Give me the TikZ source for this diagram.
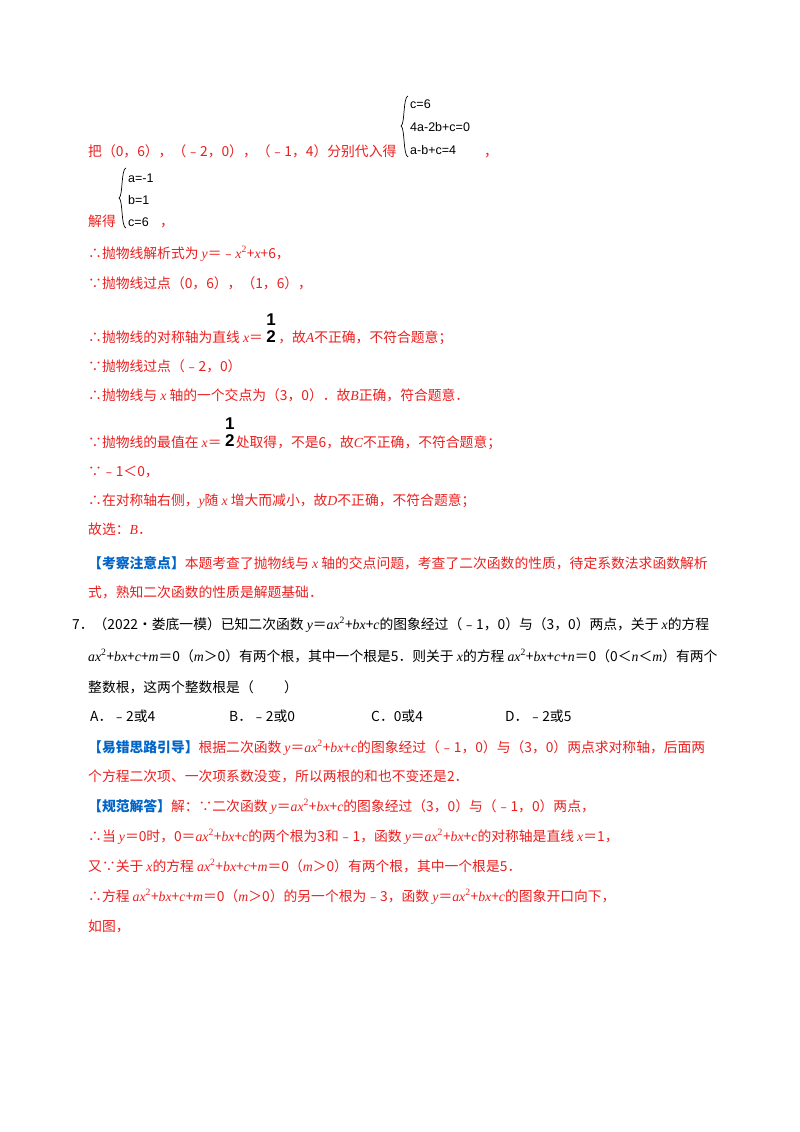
\documentclass[tikz,border=0pt]{standalone}
\usepackage{fontspec}
\setmainfont{Noto Sans CJK SC}
\newfontfamily\serf{Liberation Serif}
\newfontfamily\arf{Liberation Sans}
\newcommand{\vv}[1]{{\serf\itshape #1}}
\newcommand{\sq}{\textsuperscript{\serf 2}}
\definecolor{rd}{RGB}{235,30,30}
\definecolor{bl}{RGB}{0,100,200}
\tikzset{t/.style={anchor=base west,inner sep=0pt,font=\fontsize{13.8}{16}\selectfont},
 r/.style={t,text=rd},k/.style={t,text=black},
 sys/.style={anchor=base west,inner sep=0pt,font=\arf\fontsize{12.5}{15}\selectfont,text=black,align=left},
 frac/.style={anchor=base west,inner sep=0pt,font=\arf\bfseries\fontsize{17}{18}\selectfont,text=black},
 brc/.style={draw=black,line width=0.7pt}}
\begin{document}
\begin{tikzpicture}[x=1pt,y=-1pt]
\useasboundingbox (0,0) rectangle (800,1132);
\node[r] (l1) at (88,156) {把（0，6），（﹣2，0），（﹣1，4）分别代入得};
\node[sys] (s1) at (410,108) {c=6};
\node[sys] (s2) at (410,131) {4a-2b+c=0};
\node[sys] (s3) at (410,154) {a-b+c=4};
\coordinate (b1t) at (408,96); \coordinate (b1m) at (401,126); \coordinate (b1b) at (408,157);
\draw[brc] (b1t) .. controls (403,97) and (405,124) .. (b1m) .. controls (405,128) and (403,155) .. (b1b);
\node[r] (c1) at (484,156) {，};
\node[r] (l2) at (88,226) {解得};
\node[sys] (s4) at (128,182) {a=-1};
\node[sys] (s5) at (128,204) {b=1};
\node[sys] (s6) at (128,226) {c=6};
\coordinate (b2t) at (126,168); \coordinate (b2m) at (119,198); \coordinate (b2b) at (126,228);
\draw[brc] (b2t) .. controls (121,169) and (123,196) .. (b2m) .. controls (123,200) and (121,227) .. (b2b);
\node[r] (c2) at (160,226) {，};
\node[r] (l3) at (88,258) {∴抛物线解析式为 \vv{y}＝﹣\vv{x}\sq+\vv{x}+6，};
\node[r] (l4) at (88,288) {∵抛物线过点（0，6），（1，6），};
\node[r] (l5a) at (88,342) {∴抛物线的对称轴为直线 \vv{x}＝};
\node[frac] (f1) at ([xshift=3pt,yshift=17pt]l5a.base east) {1};
\node[frac] (f2) at ([xshift=3pt]l5a.base east) {2};
\node[r] (l5b) at ([xshift=2pt]f2.base east) {，故\vv{A}不正确，不符合题意；};
\node[r] (l6) at (88,371) {∵抛物线过点（﹣2，0）};
\node[r] (l7) at (88,400) {∴抛物线与 \vv{x} 轴的一个交点为（3，0）．故\vv{B}正确，符合题意．};
\node[r] (l8a) at (88,447) {∵抛物线的最值在 \vv{x}＝};
\node[frac] (f3) at ([xshift=3pt,yshift=18pt]l8a.base east) {1};
\node[frac] (f4) at ([xshift=3pt,yshift=1pt]l8a.base east) {2};
\node[r] (l8b) at ([xshift=1pt]f4.east |- l8a.base) {处取得，不是6，故\vv{C}不正确，不符合题意；};
\node[r] (l9) at (88,476) {∵﹣1＜0，};
\node[r] (l10) at (88,505) {∴在对称轴右侧，\vv{y}随 \vv{x} 增大而减小，故\vv{D}不正确，不符合题意；};
\node[r] (l11) at (88,534) {故选：\vv{B}．};
\node[r] (l12) at (88,568) {\textcolor{bl}{\textbf{【考察注意点】}}本题考查了抛物线与 \vv{x} 轴的交点问题，考查了二次函数的性质，待定系数法求函数解析};
\node[r] (l13) at (88,597) {式，熟知二次函数的性质是解题基础．};
\node[k] (q1) at (72,629) {7．（2022•娄底一模）已知二次函数 \vv{y}＝\vv{ax}\sq+\vv{bx}+\vv{c}的图象经过（﹣1，0）与（3，0）两点，关于 \vv{x}的方程};
\node[k] (q2) at (88,661) {\vv{ax}\sq+\vv{bx}+\vv{c}+\vv{m}＝0（\vv{m}＞0）有两个根，其中一个根是5．则关于 \vv{x}的方程 \vv{ax}\sq+\vv{bx}+\vv{c}+\vv{n}＝0（0＜\vv{n}＜\vv{m}）有两个};
\node[k] (q3) at (88,692) {整数根，这两个整数根是（\hspace{2.2em}）};
\node[k] (oA) at (90,721) {A．﹣2或4};
\node[k] (oB) at (229,721) {B．﹣2或0};
\node[k] (oC) at (371,721) {C．0或4};
\node[k] (oD) at (505,721) {D．﹣2或5};
\node[r] (l14) at (88,752) {\textcolor{bl}{\textbf{【易错思路引导】}}根据二次函数 \vv{y}＝\vv{ax}\sq+\vv{bx}+\vv{c}的图象经过（﹣1，0）与（3，0）两点求对称轴，后面两};
\node[r] (l15) at (88,781) {个方程二次项、一次项系数没变，所以两根的和也不变还是2．};
\node[r] (l16) at (88,811) {\textcolor{bl}{\textbf{【规范解答】}}解：∵二次函数 \vv{y}＝\vv{ax}\sq+\vv{bx}+\vv{c}的图象经过（3，0）与（﹣1，0）两点，};
\node[r] (l17) at (88,841) {∴当 \vv{y}＝0时，0＝\vv{ax}\sq+\vv{bx}+\vv{c}的两个根为3和﹣1，函数 \vv{y}＝\vv{ax}\sq+\vv{bx}+\vv{c}的对称轴是直线 \vv{x}＝1，};
\node[r] (l18) at (88,871) {又∵关于 \vv{x}的方程 \vv{ax}\sq+\vv{bx}+\vv{c}+\vv{m}＝0（\vv{m}＞0）有两个根，其中一个根是5．};
\node[r] (l19) at (88,901) {∴方程 \vv{ax}\sq+\vv{bx}+\vv{c}+\vv{m}＝0（\vv{m}＞0）的另一个根为﹣3，函数 \vv{y}＝\vv{ax}\sq+\vv{bx}+\vv{c}的图象开口向下，};
\node[r] (l20) at (88,931) {如图，};
\end{tikzpicture}
\end{document}
